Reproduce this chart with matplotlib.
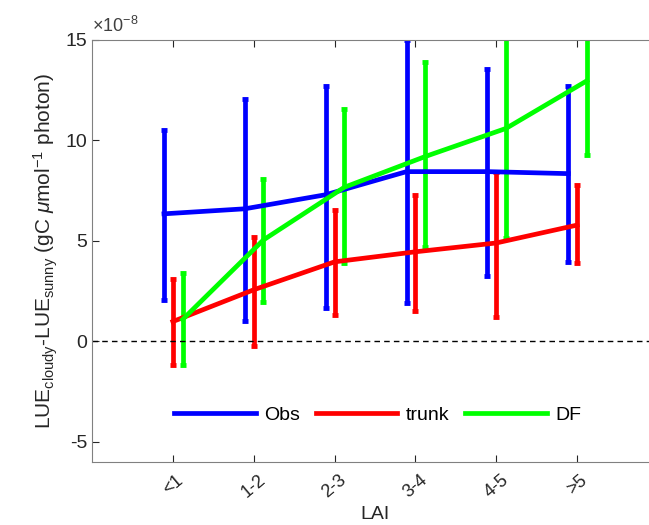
import matplotlib
matplotlib.use("Agg")
import matplotlib.pyplot as plt
from matplotlib.ticker import FuncFormatter
import numpy as np

plt.rcParams['font.family'] = ['Liberation Sans', 'DejaVu Sans']
plt.rcParams['mathtext.fontset'] = 'custom'
plt.rcParams['mathtext.rm'] = 'Liberation Sans'
plt.rcParams['mathtext.it'] = 'Liberation Sans:italic'
plt.rcParams['axes.unicode_minus'] = False

categories = ['<1', '1-2', '2-3', '3-4', '4-5', '>5']
series_names = ['Obs', 'trunk', 'DF']
colors = ['#0000ff', '#ff0000', '#00ff00']

obs_mean = [6.35, 6.6, 7.3, 8.45, 8.45, 8.35]
obs_hi = [10.5, 12.08, 12.7, 15.0, 13.56, 12.7]
obs_lo = [2.08, 1.04, 1.68, 1.93, 3.27, 3.96]

trunk_mean = [0.99, 2.57, 3.96, 4.46, 4.9, 5.79]
trunk_hi = [3.1, 5.2, 6.53, 7.28, 8.42, 7.77]
trunk_lo = [-1.19, -0.25, 1.34, 1.49, 1.24, 3.9]

df_mean = [1.09, 5.05, 7.67, 9.2, 10.6, 12.97]
df_hi = [3.42, 8.07, 11.58, 13.9, 16.5, 16.5]
df_lo = [-1.19, 1.98, 3.9, 4.7, 5.15, 9.3]

yticks = [-5, 0, 5, 10, 15]
scale = 1e-8
offsets = [-0.11, 0.0, 0.12]

fig = plt.figure(figsize=(6.49, 5.25), dpi=100)
ax = fig.add_axes([92/649, 1-462/525, (658-92)/649, (462-40)/525])

x = np.arange(1, len(categories)+1)
data = [(obs_mean, obs_lo, obs_hi), (trunk_mean, trunk_lo, trunk_hi), (df_mean, df_lo, df_hi)]
handles = []
for (m, lo, hi), c, off, name in zip(data, colors, offsets, series_names):
    m = np.array(m); lo = np.array(lo); hi = np.array(hi)
    yerr = np.vstack([m - lo, hi - m]) * scale
    eb = ax.errorbar(x + off, m*scale, yerr=yerr, color=c, lw=3.4, elinewidth=3.4,
                     capsize=2.5, capthick=3.5, label=name)
    handles.append(eb)

ax.axhline(0, color='black', lw=1, ls=(0, (4, 3)))

ax.set_xlim(0, 7)
ax.set_ylim(-6*scale, 15*scale)
ax.set_yticks(np.array(yticks)*scale)
ax.yaxis.set_major_formatter(FuncFormatter(lambda v, p: f'{v/scale:.0f}'))
ax.set_xticks(x)
ax.set_xticklabels(categories, rotation=40, fontsize=13)
ax.tick_params(axis='y', labelsize=14, direction='in', length=5, colors='#262626')
ax.tick_params(axis='x', direction='in', length=5, top=True, colors='#262626', pad=7)
ax.text(0.0, 1.01, r'$\times$10$^{\mathregular{-8}}$', transform=ax.transAxes,
        fontsize=13, color='#404040', ha='left', va='bottom')

for s in ['left', 'bottom', 'top']:
    ax.spines[s].set_color('#808080')
ax.spines['right'].set_visible(False)

ax.set_xlabel('LAI', fontsize=14, color='#262626', labelpad=3)
ax.set_ylabel(r'LUE$_{\rm cloudy}$-LUE$_{\rm sunny}$ (gC $\mu$mol$^{-1}$ photon)', fontsize=15, color='#262626', labelpad=4)

leg = ax.legend(handles=[h.lines[0] for h in handles], labels=series_names, loc='center',
                bbox_to_anchor=(0.505, 0.112), ncol=3, frameon=False, fontsize=14,
                handlelength=4.2, columnspacing=0.8, handletextpad=0.45)

fig.savefig('out.png', dpi=100)
